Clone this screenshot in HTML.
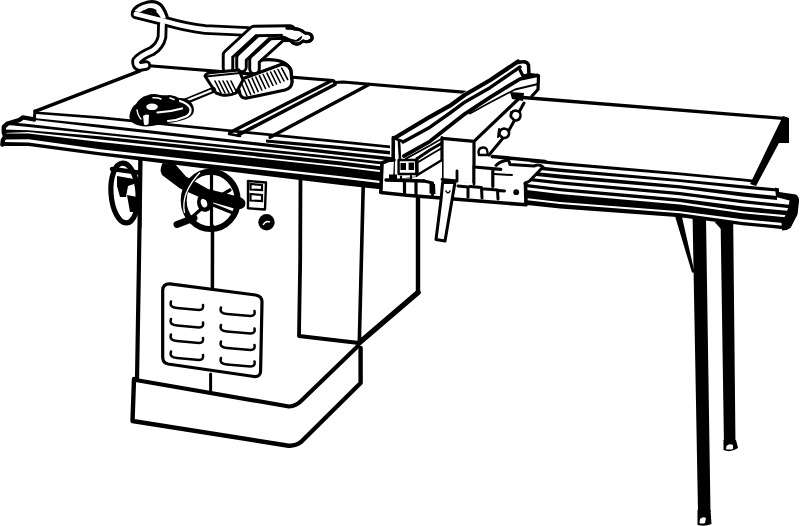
<!DOCTYPE html>
<html><head><meta charset="utf-8"><style>
html,body{margin:0;padding:0;background:#fff;overflow:hidden;}
svg{display:block;}
</style></head><body>
<svg width="800" height="526" viewBox="0 0 800 526">
<rect width="800" height="526" fill="#fff"/>
<path d="M35,111.3 L140,70.8" stroke="#000" fill="none" stroke-linecap="round" stroke-linejoin="round" stroke-width="3.4"/>
<path d="M146,65.5 L333,80.5 L335,82.5 L343,82 L466,92.3" stroke="#000" fill="none" stroke-linecap="round" stroke-linejoin="round" stroke-width="3.2"/>
<path d="M230,132.5 L331,81" stroke="#000" fill="none" stroke-linecap="round" stroke-linejoin="round" stroke-width="3.4"/>
<path d="M238,135 L335,84.5" stroke="#000" fill="none" stroke-linecap="round" stroke-linejoin="round" stroke-width="3.6"/>
<path d="M229,134 L240,136" stroke="#000" fill="none" stroke-linecap="round" stroke-linejoin="round" stroke-width="2.6"/>
<path d="M270,137.3 L369,84.5" stroke="#000" fill="none" stroke-linecap="round" stroke-linejoin="round" stroke-width="3.4"/>
<path d="M523,97.5 L786,118.6" stroke="#000" fill="none" stroke-linecap="round" stroke-linejoin="round" stroke-width="3.3"/>
<path d="M783,116 L789,118 L789,143 L779,143 L756,186 L750,184 Z" fill="#000"/>
<path d="M36.0,111.5 L100.0,116.3 L341.0,140.4 L390.0,145.5 L390.0,148.3 L341.0,143.3 L100.0,119.1 L36.0,114.0 Z"/>
<path d="M530.0,159.0 L560.0,162.0 L680.0,172.6 L742.7,178.6 L754.0,179.8 L754.0,182.4 L742.7,181.3 L680.0,175.3 L560.0,165.3 L530.0,162.3 Z"/>
<path d="M266.0,139.5 L341.0,146.1 L390.0,151.0 L390.0,154.5 L341.0,149.5 L266.0,142.5 Z"/>
<path d="M530.0,165.6 L560.0,168.6 L680.0,179.3 L742.7,185.3 L777.0,188.5 L777.0,191.5 L742.7,188.6 L680.0,182.0 L560.0,172.0 L530.0,169.0 Z"/>
<path d="M22.0,116.8 L28.5,117.4 L100.0,124.8 L341.0,151.8 L560.0,174.6 L680.0,185.3 L742.7,192.6 L777.0,196.0 L777.0,200.0 L742.7,196.6 L680.0,188.6 L560.0,178.6 L341.0,155.2 L100.0,127.7 L28.5,119.3 L22.0,119.3 Z"/>
<path d="M35,111 L34.2,120" stroke="#000" fill="none" stroke-linecap="round" stroke-linejoin="round" stroke-width="3"/>
<path d="M8.0,122.0 L28.5,124.0 L100.0,132.2 L341.0,157.0 L560.0,181.3 L680.0,192.0 L742.7,200.0 L792.0,205.0 L792.0,208.5 L742.7,203.3 L680.0,195.2 L560.0,184.6 L341.0,159.8 L100.0,134.5 L28.5,126.9 L8.0,125.0 Z"/>
<path d="M4.0,129.5 L28.5,130.2 L100.0,136.2 L341.0,161.5 L560.0,188.0 L680.0,198.6 L742.7,206.6 L790.0,211.0 L790.0,215.5 L742.7,211.2 L680.0,201.9 L560.0,191.2 L341.0,165.5 L100.0,139.6 L28.5,132.1 L4.0,133.0 Z"/>
<path d="M3.0,133.5 L28.5,133.5 L100.0,141.9 L341.0,167.2 L560.0,194.0 L680.0,204.5 L742.7,213.2 L788.0,217.5 L788.0,223.5 L742.7,219.2 L680.0,211.2 L560.0,202.0 L341.0,176.3 L100.0,149.3 L28.5,139.2 L3.0,139.5 Z"/>
<path d="M2.4,142.0 L28.5,142.5 L100.0,152.2 L341.0,178.6 L560.0,204.0 L680.0,213.2 L742.7,221.9 L786.0,226.0 L786.0,229.5 L742.7,225.2 L680.0,217.2 L560.0,208.5 L341.0,185.0 L100.0,155.6 L28.5,145.9 L2.4,146.0 Z"/>
<path d="M34,119.3 L22.8,117.4 L19,120.2 L7.6,123.5 L3.8,126.9 L3.8,132.6 L5.2,136.4 L2.9,140.2 L2.4,144.5" stroke="#000" fill="none" stroke-linecap="round" stroke-linejoin="round" stroke-width="4.4"/>
<path d="M775,187.5 L779,188.5 L779,192 L796,194.5 Q799.5,197 799,201.5 L797.5,214.5 L790.5,228 Q787,230.5 782,230.5 L781.5,223 L785.5,215 L788.5,207 L789.5,200.5 L776,197 Z" fill="#000"/>
<path d="M140.5,159 L139,260 L137,380" stroke="#000" fill="none" stroke-linecap="round" stroke-linejoin="round" stroke-width="4.2"/>
<path d="M212.5,226 L212.4,288" stroke="#000" fill="none" stroke-linecap="round" stroke-linejoin="round" stroke-width="3.5"/>
<path d="M210.6,374 L210.6,393" stroke="#000" fill="none" stroke-linecap="round" stroke-linejoin="round" stroke-width="3"/>
<path d="M300.5,176 L300.2,260 L299,336 L359,343" stroke="#000" fill="none" stroke-linecap="round" stroke-linejoin="round" stroke-width="3.8"/>
<path d="M363.3,183 L359.3,343" stroke="#000" fill="none" stroke-linecap="round" stroke-linejoin="round" stroke-width="3.6"/>
<path d="M418,196 L418,292.5" stroke="#000" fill="none" stroke-linecap="round" stroke-linejoin="round" stroke-width="4.4"/>
<path d="M418,292.5 L359,343" stroke="#000" fill="none" stroke-linecap="round" stroke-linejoin="round" stroke-width="5.5"/>
<path d="M358,346 L301,401 Q296,406 289,406.5 L135.6,380" stroke="#000" fill="none" stroke-linecap="round" stroke-linejoin="round" stroke-width="4.2"/>
<path d="M134,379 L132.5,421 L287,445.5 Q295,446.5 301,442 L360.6,383 L360.6,348" stroke="#000" fill="none" stroke-linecap="round" stroke-linejoin="round" stroke-width="4.4"/>
<path d="M170,283.8 L255.5,295 Q262,296 262,302 L260.6,371 Q260.6,377 254,376.5 L168,364 Q162.7,363 162.7,357 L162.7,290 Q163,283.5 170,283.8 Z" stroke="#000" fill="none" stroke-linecap="round" stroke-linejoin="round" stroke-width="3.2"/>
<path d="M171,301.5 Q169,307.5 177,308.0 L199,310.0 Q204,310.0 203,305.0" stroke="#000" fill="none" stroke-linecap="round" stroke-linejoin="round" stroke-width="2.5"/>
<path d="M171,319 Q169,325 177,325.5 L199,327.5 Q204,327.5 203,322.5" stroke="#000" fill="none" stroke-linecap="round" stroke-linejoin="round" stroke-width="2.5"/>
<path d="M171,334.5 Q169,340.5 177,341.0 L199,343.0 Q204,343.0 203,338.0" stroke="#000" fill="none" stroke-linecap="round" stroke-linejoin="round" stroke-width="2.5"/>
<path d="M171,351.5 Q169,357.5 177,358.0 L199,360.0 Q204,360.0 203,355.0" stroke="#000" fill="none" stroke-linecap="round" stroke-linejoin="round" stroke-width="2.5"/>
<path d="M221,307.5 Q219,313.5 227,314.0 L250.5,316.0 Q255.5,316.0 254.5,311.0" stroke="#000" fill="none" stroke-linecap="round" stroke-linejoin="round" stroke-width="2.5"/>
<path d="M221,325 Q219,331 227,331.5 L250.5,333.5 Q255.5,333.5 254.5,328.5" stroke="#000" fill="none" stroke-linecap="round" stroke-linejoin="round" stroke-width="2.5"/>
<path d="M221,341.5 Q219,347.5 227,348.0 L250.5,350.0 Q255.5,350.0 254.5,345.0" stroke="#000" fill="none" stroke-linecap="round" stroke-linejoin="round" stroke-width="2.5"/>
<path d="M221,358 Q219,364 227,364.5 L250.5,366.5 Q255.5,366.5 254.5,361.5" stroke="#000" fill="none" stroke-linecap="round" stroke-linejoin="round" stroke-width="2.5"/>
<path d="M248,181 L266,182.5 L265,209.5 L248,208.3 Z" stroke="#000" fill="none" stroke-linecap="round" stroke-linejoin="round" stroke-width="2.4"/>
<path d="M250.5,184 L262,185 L262,190 L250.5,189.5 Z M250.5,194 L262,195 L262,201 L250.5,200.5 Z" fill="none" stroke="#000" stroke-width="2.2"/>
<circle cx="266.5" cy="222.3" r="8.2" fill="#000"/>
<path d="M263,225 Q266,220 270,222" fill="none" stroke="#fff" stroke-width="1.4"/>
<ellipse cx="124.5" cy="193" rx="13.5" ry="30" transform="rotate(-4 124.5 193)" fill="none" stroke="#000" stroke-width="5.2"/>
<path d="M112,169 L138,172.5" stroke="#000" fill="none" stroke-linecap="round" stroke-linejoin="round" stroke-width="4.5"/>
<path d="M117,176 L134,179 L134,184 L128,186 L126,197 L120,197 L117,186 Z" fill="#000"/>
<path d="M127,195 L137,197 L137,212 L130,212 Z" fill="#000"/>
<rect x="138.5" y="158" width="3" height="70" fill="#000"/>
<ellipse cx="210.7" cy="200.4" rx="27" ry="28.7" fill="none" stroke="#000" stroke-width="6"/>
<path d="M211.5,173 L211.5,229 M208,203 L233,213 M208,203 L191,218 M208,203 L230,190 M206,200 L193,184" stroke="#000" fill="none" stroke-linecap="round" stroke-linejoin="round" stroke-width="3.2"/>
<ellipse cx="205" cy="202" rx="8" ry="10" fill="#000"/>
<ellipse cx="204" cy="203" rx="3" ry="4.5" fill="#fff" transform="rotate(-20 204 203)"/>
<path d="M162.6,163 L175,164 L186,176.5 L208,189 L240,197 Q247,200 245,206 Q242,210 236,209 L208,201 L180,188.5 L162,175 Q159,170 162.6,163 Z" fill="#000"/>
<path d="M177,224.5 L194,218" stroke="#000" fill="none" stroke-linecap="round" stroke-linejoin="round" stroke-width="7"/>
<path d="M184.5,213 Q180.5,193 200,172.5" fill="none" stroke="#fff" stroke-width="1.3"/>
<path d="M675.3,217 L682,217 L694.6,272.6 L692,272.6 Z" fill="#000"/>
<path d="M692.6,218 L706,218 L710.5,512 L698,512 Z" fill="#000"/>
<path d="M720.6,222 L733.2,222 L735.5,446 L724,446 Z" fill="#000"/>
<path d="M714.6,222 L721,222 L721,229 Z" fill="#000"/>
<path d="M697.5,510 L710.5,510 L711.5,524 Q705,527 697.5,525 Z" fill="#000"/>
<path d="M700,519 Q703,516 706,518 L705,523 Q701,524 699.5,523 Z" fill="#fff"/>
<path d="M723.5,440 L736,440 L738,448 Q731,453 723.5,450 Z" fill="#000"/>
<path d="M726.5,446 Q729,443 733,445 L733,449 Q728,450 726,449 Z" fill="#fff"/>
<path d="M392,137 L518,59 L530,61 L539.5,73 L539.5,90 L532,95 L520,93.5 L442,159 L418,176 L392,180 Z" fill="#fff"/>
<path d="M394.6,138 L430,116.8 L450,105.7 L465,94.7 L490,80.3 L518,61.5" stroke="#000" fill="none" stroke-linecap="round" stroke-linejoin="round" stroke-width="4.2"/>
<path d="M518,62.5 Q527,60 528.5,65 L529,76" stroke="#000" fill="none" stroke-linecap="round" stroke-linejoin="round" stroke-width="3.5"/>
<path d="M403,142 L430,127.2 L450,113 L465,101.9 L490,87.7 L520,67" stroke="#000" fill="none" stroke-linecap="round" stroke-linejoin="round" stroke-width="3.4"/>
<path d="M520,70 L523,76 L530,74.5 L538.5,75.5 L538,89.5 L532,96" stroke="#000" fill="none" stroke-linecap="round" stroke-linejoin="round" stroke-width="3.2"/>
<path d="M404,156 L430,141.3 L450,125.6 L465,113.8 L490,97.3 L520,79 L537,75.5" stroke="#000" fill="none" stroke-linecap="round" stroke-linejoin="round" stroke-width="3.8"/>
<path d="M406,158.6 L430,145.5 L442,138.5 M470,113.5 L490,102.5 L515,89.5 L538,84" stroke="#000" fill="none" stroke-linecap="round" stroke-linejoin="round" stroke-width="1.8"/>
<path d="M417.3,158.6 L430,150 L442,143" stroke="#000" fill="none" stroke-linecap="round" stroke-linejoin="round" stroke-width="3"/>
<path d="M417.3,162.6 L430,155 L442,148" stroke="#000" fill="none" stroke-linecap="round" stroke-linejoin="round" stroke-width="2"/>
<path d="M393.3,137.5 L393,179" stroke="#000" fill="none" stroke-linecap="round" stroke-linejoin="round" stroke-width="3.6"/>
<path d="M393.3,138 L403.3,141.5" stroke="#000" fill="none" stroke-linecap="round" stroke-linejoin="round" stroke-width="2.6"/>
<path d="M399,141.5 L400,159" stroke="#000" fill="none" stroke-linecap="round" stroke-linejoin="round" stroke-width="2.6"/>
<path d="M398.6,160 L416,160 L416.5,174 L398.6,174 Z" stroke="#000" fill="none" stroke-linecap="round" stroke-linejoin="round" stroke-width="2.4"/>
<rect x="400.5" y="163" width="5.5" height="7" fill="#000"/><rect x="408.6" y="162.6" width="5.5" height="7.4" fill="#000"/>
<path d="M417,158.6 L417.3,177" stroke="#000" fill="none" stroke-linecap="round" stroke-linejoin="round" stroke-width="3"/>
<path d="M442,138 L474,141 L520,97 L521.5,99 L487.5,156 L474,167 L474,183 L442,180 Z" fill="#fff"/>
<path d="M442,138.3 L474,141.3 M442,137.5 L442,180 M474,141.3 L474,183 M474,141.3 L520,97.5" stroke="#000" fill="none" stroke-linecap="round" stroke-linejoin="round" stroke-width="3.2"/>
<path d="M489,155 L508,132 L524,103" stroke="#000" fill="none" stroke-linecap="round" stroke-linejoin="round" stroke-width="3"/>
<path d="M479,155 Q477,148 483,147.5 Q488,147 487.5,155 Z" stroke="#000" fill="none" stroke-linecap="round" stroke-linejoin="round" stroke-width="2.4"/>
<path d="M499.5,135 Q499,129 504,128.5 Q509.5,129 509,134 Q508,138.5 503,138 Z" fill="#fff" stroke="#000" stroke-width="2.6"/>
<path d="M499,129 L498,137" stroke="#000" fill="none" stroke-linecap="round" stroke-linejoin="round" stroke-width="2"/>
<path d="M511,117 Q510.5,111 515.5,110.5 Q521,111 520.5,116 Q519.5,121 514.5,120.5 Z" fill="#fff" stroke="#000" stroke-width="2.6"/>
<path d="M511,112 L510.5,116" stroke="#000" fill="none" stroke-linecap="round" stroke-linejoin="round" stroke-width="2"/>
<path d="M510,92 L524,93 L523,101 L512,99 Z" fill="#000"/>
<path d="M381,163 L388,160.5 L394,160 L393,179 L417,177 L418,175 L442,159.5 L442,180 L474,183 L474,166 L492,157 L539,165.5 L541,167.5 L526.5,183.5 L526.5,204.5 L460,199.5 L381,192.5 Z" fill="#fff"/>
<path d="M394,160 L388,160.5 L382,163 L380.8,192.5 L407,195.3 L460,199.5 L526,204.8 L525.5,183" stroke="#000" fill="none" stroke-linecap="round" stroke-linejoin="round" stroke-width="3.6"/>
<path d="M492.3,156.5 L545,161.5" stroke="#000" fill="none" stroke-linecap="round" stroke-linejoin="round" stroke-width="3.6"/>
<path d="M496,165.5 Q500,161 508.5,160 L510,164.5 L534,166 Q540,163.5 543,167 L529.5,181 L525,183.5" stroke="#000" fill="none" stroke-linecap="round" stroke-linejoin="round" stroke-width="3"/>
<path d="M386,180 L424,181" stroke="#000" fill="none" stroke-linecap="round" stroke-linejoin="round" stroke-width="3.4"/>
<rect x="389" y="174.5" width="8" height="6.5" fill="#000"/>
<path d="M404.5,181 L404.5,192.5 M416,181 L416,193.5 M424,181 L432.5,183 L432.5,194.5" stroke="#000" fill="none" stroke-linecap="round" stroke-linejoin="round" stroke-width="3.2"/>
<path d="M429.5,184 L435,184 L435.5,194 L429.5,193.5 Z" fill="#000"/>
<path d="M401,176.5 L401,179.5 L411,179.5 L411,176" stroke="#000" fill="none" stroke-linecap="round" stroke-linejoin="round" stroke-width="2.2"/>
<path d="M458,186 L468,187 L468,197 M470,186.5 L481.5,187.5 L482,198 M482.5,188.8 L497.5,190 L498,199 M498.5,190.5 L504.5,191" stroke="#000" fill="none" stroke-linecap="round" stroke-linejoin="round" stroke-width="3"/>
<path d="M442,179.5 L457,181 L457,171 M474,166 L474,184" stroke="#000" fill="none" stroke-linecap="round" stroke-linejoin="round" stroke-width="2.8"/>
<path d="M474.5,167 L500.8,169.4 M492.8,170 L492.8,186.5" stroke="#000" fill="none" stroke-linecap="round" stroke-linejoin="round" stroke-width="3.2"/>
<path d="M494,174 L512,175" stroke="#000" fill="none" stroke-linecap="round" stroke-linejoin="round" stroke-width="2"/>
<path d="M417.3,175 L442,160" stroke="#000" fill="none" stroke-linecap="round" stroke-linejoin="round" stroke-width="2.6"/>
<circle cx="516.2" cy="192.2" r="2.9" fill="#000"/>
<path d="M442.6,182.6 L455,182.6 L452,200 L445,241 L436,239.5 L441,200 Z" fill="#fff" stroke="#000" stroke-width="3" stroke-linejoin="round"/>
<path d="M446,191 Q448,195 450,191" stroke="#000" fill="none" stroke-linecap="round" stroke-linejoin="round" stroke-width="1.6"/>
<path d="M136,14 L150,17.5 L168,22 Q185,27 205,29.5 L248,31.5" stroke="#000" fill="none" stroke-linecap="round" stroke-linejoin="round" stroke-width="10.5"/>
<path d="M162.4,24 L162,37 Q160,46 152,51 Q140,56 136.5,61 Q136,66 140,66.5 L146,65.5" stroke="#000" fill="none" stroke-linecap="round" stroke-linejoin="round" stroke-width="10.5"/>
<path d="M132.5,12 Q135,5 148,2 Q156,0.5 161,5 Q166,11 168,20 L160,20 Q157,13 152,11 Q146,9.5 140,14 Z" fill="#fff" stroke="#000" stroke-width="3.2" stroke-linejoin="round"/>
<path d="M136,14 L150,17.5 L168,22 Q185,27 205,29.5 L248,31.5" stroke="#fff" fill="none" stroke-linecap="round" stroke-linejoin="round" stroke-width="4.8"/>
<path d="M162.4,24 L162,37 Q160,46 152,51 Q140,56 136.5,61 Q136,66 140,66.5 L146,65.5" stroke="#fff" fill="none" stroke-linecap="round" stroke-linejoin="round" stroke-width="4.8"/>
<path d="M145.5,9.5 Q151,6.5 156.5,10 L156,13.5 Q150,13 145.5,9.5 Z" fill="#000"/>
<path d="M254.5,69 L254.5,60 L281,36 L296,35.5" stroke="#000" fill="none" stroke-linecap="round" stroke-linejoin="round" stroke-width="12.5"/>
<path d="M254.5,69 L254.5,60 L281,36 L296,35.5" stroke="#fff" fill="none" stroke-linecap="round" stroke-linejoin="round" stroke-width="6.6"/>
<path d="M241.5,67 L241.5,58 L267,34 L292,33.5" stroke="#000" fill="none" stroke-linecap="round" stroke-linejoin="round" stroke-width="12.5"/>
<path d="M241.5,67 L241.5,58 L267,34 L292,33.5" stroke="#fff" fill="none" stroke-linecap="round" stroke-linejoin="round" stroke-width="6.6"/>
<path d="M228,68 L228,55 L254,31 L290,30.5" stroke="#000" fill="none" stroke-linecap="round" stroke-linejoin="round" stroke-width="12.5"/>
<path d="M228,68 L228,55 L254,31 L290,30.5" stroke="#fff" fill="none" stroke-linecap="round" stroke-linejoin="round" stroke-width="6.6"/>
<path d="M287,28 Q300,28 305,33 Q313,33 312,39 Q309,43 303,41 Q298,46 293,43 Q288,38 282,37" stroke="#000" fill="none" stroke-linecap="round" stroke-linejoin="round" stroke-width="3"/>
<path d="M282,30 L300,31 L303,35 L296,40 L283,37 Z" fill="#fff"/>
<path d="M287,28 Q300,28 305,33 Q313,33 312,39 Q309,43 303,41 Q298,46 293,43 Q288,38 282,37" stroke="#000" fill="none" stroke-linecap="round" stroke-linejoin="round" stroke-width="3"/>
<path d="M262,60 Q285,58 291,70 L292,82" stroke="#000" fill="none" stroke-linecap="round" stroke-linejoin="round" stroke-width="3.2"/>
<path d="M236.5,81 L281,64.5 Q289,63 291,72 L292,82 Q292,88 285,90 L247,98 Q242,99 240,94 Z" fill="#fff" stroke="#000" stroke-width="3.2" stroke-linejoin="round"/>
<path d="M241.0,82.0 L247.0,96.0 M244.7,80.8 L250.7,94.5 M248.4,79.5 L254.4,93.0 M252.1,78.2 L258.1,91.5 M255.8,77.0 L261.8,90.0 M259.5,75.8 L265.5,88.5 M263.2,74.5 L269.2,87.0 M266.9,73.2 L272.9,85.5 M270.6,72.0 L276.6,84.0 M274.3,70.8 L280.3,82.5 M278.0,69.5 L284.0,81.0 M281.7,68.2 L287.7,79.5" stroke="#000" fill="none" stroke-linecap="round" stroke-linejoin="round" stroke-width="1.6"/>
<path d="M205,76 Q206,73 212,72.5 L239,70 L243,80 L236,93 Q230,96 222,95 L216,93 Z" fill="#fff" stroke="#000" stroke-width="3" stroke-linejoin="round"/>
<path d="M215.0,81.0 L221.0,93.0 M219.0,81.0 L225.0,93.0 M223.0,81.0 L229.0,93.0 M227.0,81.0 L233.0,93.0 M231.0,81.0 L237.0,93.0" stroke="#000" fill="none" stroke-linecap="round" stroke-linejoin="round" stroke-width="1.6"/>
<path d="M206,76.5 L240,73" stroke="#000" fill="none" stroke-linecap="round" stroke-linejoin="round" stroke-width="2.2"/>
<path d="M184,102 L213,90" stroke="#000" fill="none" stroke-linecap="round" stroke-linejoin="round" stroke-width="6.2"/>
<path d="M186,100.8 L211.5,90.5" stroke="#fff" fill="none" stroke-width="2.2"/>
<path d="M129.5,115.5 Q131,107 136,104 Q140,97 147,95.5 Q153,93 160,95 Q166,95.5 170,95 Q176,96 179,98 Q184,97.5 188,99.5 Q194,104 194,110 Q194,116 186,119 Q176,122.5 168,123 L152,126 Q140,127.5 133,123 Q129,120 129.5,115.5 Z" fill="#000"/>
<ellipse cx="152" cy="106.8" rx="5.8" ry="3.3" fill="#fff"/>
<path d="M157.5,112.5 Q170,112 182,108.5" stroke="#fff" fill="none" stroke-width="2.2" stroke-linecap="round"/>
<path d="M180,101 Q189,104 190.5,109 Q191,114 186,116.5 Q177,120.5 168,121" stroke="#fff" fill="none" stroke-width="2.2" stroke-linecap="round"/>
<path d="M153,97.8 Q158,97.5 161,99 M170,98 L174,99.5" stroke="#fff" fill="none" stroke-width="1.6" stroke-linecap="round"/>
<path d="M143,116 Q146,113.5 149,115 L148.5,124 Q146,126 144,124.5 Z" fill="#fff"/>
<path d="M137,110 Q138,116 141,119" stroke="#fff" fill="none" stroke-width="1.4" stroke-linecap="round"/>
</svg></body></html>
